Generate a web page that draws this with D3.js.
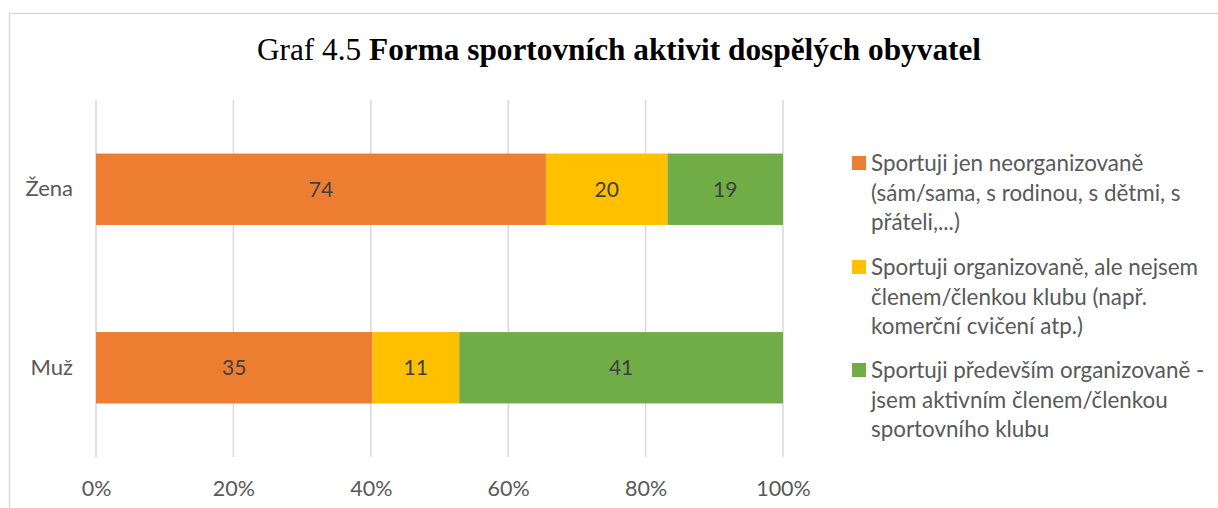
<!DOCTYPE html>
<html><head><meta charset="utf-8">
<script src="https://cdn.jsdelivr.net/npm/d3@7"></script>
<style>
html,body{margin:0;padding:0;background:#fff;}
svg{display:block;}
</style></head>
<body>
<svg id="c" width="1218" height="508"></svg>
<script>
const categories = ["Žena", "Muž"];
const seriesNames = [
  ["Sportuji jen neorganizovaně", "(sám/sama, s rodinou, s dětmi, s", "přáteli,...)"],
  ["Sportuji organizovaně, ale nejsem", "členem/členkou klubu (např.", "komerční cvičení atp.)"],
  ["Sportuji především organizovaně -", "jsem aktivním členem/členkou", "sportovního klubu"]
];
const neorganizovane = [74, 35];
const organizovaneNeclen = [20, 11];
const organizovaneClen = [19, 41];
const tickValues = [0, 0.2, 0.4, 0.6, 0.8, 1.0];
const colors = ["#ED7D31", "#FFC000", "#70AD47"];

const svg = d3.select("#c");
const font = "Lato, 'Open Sans', sans-serif";

// chart border
svg.append("rect").attr("x", 9.5).attr("y", 13.5).attr("width", 1220).attr("height", 520)
  .attr("fill", "none").attr("stroke", "#D9D9D9").attr("stroke-width", 1.5);

// title
const title = svg.append("text").attr("x", 619).attr("y", 60).attr("text-anchor", "middle")
  .attr("font-family", "'Liberation Serif', 'DejaVu Serif', serif").attr("font-size", 31.3).attr("fill", "#000");
title.append("tspan").text("Graf 4.5 ");
title.append("tspan").attr("font-weight", "bold").text("Forma sportovních aktivit dospělých obyvatel");

const plot = {left: 96, right: 783, top: 100, bottom: 457};
const x = d3.scaleLinear().domain([0, 1]).range([plot.left, plot.right]);
const y = d3.scaleBand().domain(categories).range([plot.top, plot.bottom]).paddingInner(0.6).paddingOuter(0.3);

// gridlines
svg.append("g").selectAll("line").data(tickValues).join("line")
  .attr("x1", d => x(d) ).attr("x2", d => x(d))
  .attr("y1", plot.top).attr("y2", plot.bottom)
  .attr("stroke", "#D9D9D9").attr("stroke-width", 1.5);

// x axis labels
const xAxis = d3.axisBottom(x).tickValues(tickValues).tickFormat(d3.format(".0%")).tickSize(0).tickPadding(0);
const gx = svg.append("g").attr("transform", `translate(0,${plot.bottom + 24})`).call(xAxis);
gx.select(".domain").remove();
gx.selectAll("text").attr("font-family", font).attr("font-size", 21.5).attr("fill", "#595959");

// y axis labels
const yAxis = d3.axisLeft(y).tickSize(0).tickPadding(0);
const gy = svg.append("g").attr("transform", `translate(73,0)`).call(yAxis);
gy.select(".domain").remove();
gy.selectAll("text").attr("font-family", font).attr("font-size", 22).attr("fill", "#595959");

// stack
const rows = categories.map((c, i) => ({cat: c, a: neorganizovane[i], b: organizovaneNeclen[i], c: organizovaneClen[i]}));
const stack = d3.stack().keys(["a", "b", "c"]).offset(d3.stackOffsetExpand);
const series = stack(rows);

const g = svg.append("g");
series.forEach((s, si) => {
  g.append("g").selectAll("rect").data(s).join("rect")
    .attr("x", d => x(d[0])).attr("width", d => x(d[1]) - x(d[0]))
    .attr("y", d => y(d.data.cat)).attr("height", y.bandwidth())
    .attr("fill", colors[si]);
  g.append("g").selectAll("text").data(s).join("text")
    .attr("x", d => (x(d[0]) + x(d[1])) / 2)
    .attr("y", d => y(d.data.cat) + y.bandwidth() / 2)
    .attr("dy", "0.35em").attr("text-anchor", "middle")
    .attr("font-family", font).attr("font-size", 21).attr("fill", "#404040")
    .text(d => d.data[s.key]);
});

// legend
const legendTop = [163, 267, 370];
const lineH = 29.7;
seriesNames.forEach((lines, i) => {
  const lg = svg.append("g");
  lg.append("rect").attr("x", 852).attr("y", legendTop[i] - 7).attr("width", 14).attr("height", 14).attr("fill", colors[i]);
  lg.append("g").selectAll("text").data(lines).join("text")
    .attr("x", 871).attr("y", (d, j) => legendTop[i] + j * lineH).attr("dy", "0.35em")
    .attr("font-family", font).attr("font-size", 22.4).attr("fill", "#595959")
    .text(d => d);
});
</script>
</body></html>
